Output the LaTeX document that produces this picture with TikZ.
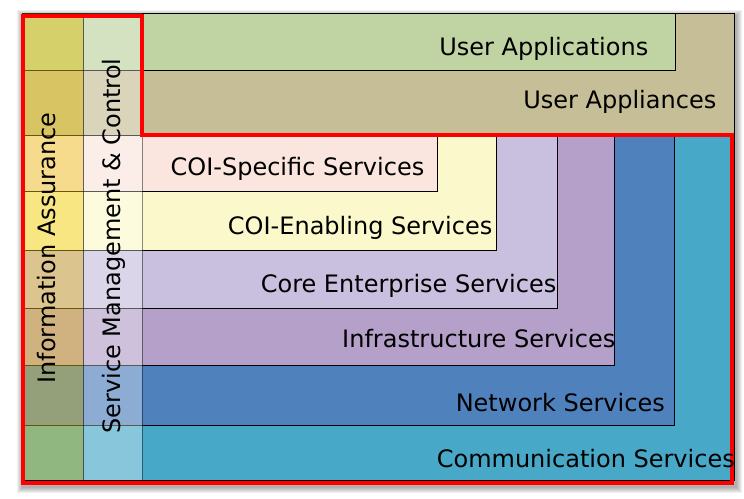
\documentclass[tikz,border=0pt]{standalone}
\usepackage{fontspec}
\setmainfont{DejaVu Sans}
\definecolor{uapps}{HTML}{C0D3A2}
\definecolor{uappl}{HTML}{C6BE96}
\definecolor{coispec}{HTML}{FAE6DE}
\definecolor{coien}{HTML}{FBF9CC}
\definecolor{core}{HTML}{C9BFDE}
\definecolor{infra}{HTML}{B4A0C8}
\definecolor{net}{HTML}{4F81BD}
\definecolor{comm}{HTML}{48A8C8}
\definecolor{iatint}{RGB}{245,205,30}
\begin{document}
\begin{tikzpicture}[x=1pt,y=-1pt,
  layer/.style={draw=black,line width=0.8pt},
  lbl/.style={anchor=base east,inner sep=0pt,font=\fontsize{24}{28}\selectfont},
  vlbl/.style={anchor=base,rotate=90,inner sep=0pt,font=\fontsize{24}{28}\selectfont},
  column/.style={draw=black,draw opacity=0.45,line width=0.8pt},
  frame/.style={draw=red,line width=4pt,line join=miter}]
\useasboundingbox (0,0) rectangle (744,498);

% soft drop shadow
\foreach \i in {1,...,6}
  \fill[black,opacity=0.06] (23-\i,16-\i) rectangle (736+\i,487+\i);

% upper layers
\fill[uappl,layer] (22,13) rectangle (734,135);
\fill[uapps,layer] (22,13) rectangle (675,70);

% nested service layers, outermost first
\fill[comm,layer]    (22,135) rectangle (734,480);
\fill[net,layer]     (22,135) rectangle (674,425);
\fill[infra,layer]   (22,135) rectangle (614,365);
\fill[core,layer]    (22,135) rectangle (557,308);
\fill[coien,layer]   (22,135) rectangle (496,250);
\fill[coispec,layer] (22,135) rectangle (437,191);

% cross-cutting columns
\fill[iatint,fill opacity=0.42,column] (22,13) rectangle (83,480);
\fill[white,fill opacity=0.35,column] (83,13) rectangle (142,480);

% red outline around the service stack
\draw[frame] (22.5,16) -- (142,16) -- (142,135) -- (732,135) -- (732,483) -- (22.5,483) -- cycle;

% layer labels
\node[lbl] (apps)  at (648.5,55.5)  {User Applications};
\node[lbl] (appl)  at (716.5,108.5) {User Appliances};
\node[lbl] (spec)  at (424.5,175)   {COI-Specific Services};
\node[lbl] (enab)  at (492.5,234)   {COI-Enabling Services};
\node[lbl] (cores) at (556.5,292)   {Core Enterprise Services};
\node[lbl] (infr)  at (615.5,347)   {Infrastructure Services};
\node[lbl] (netw)  at (665,411.5)   {Network Services};
\node[lbl] (comms) at (735,467)     {Communication Services};

% column labels
\node[vlbl] (ia)  at (55,248)  {Information Assurance};
\node[vlbl] (smc) at (120,246) {Service Management \& Control};
\end{tikzpicture}
\end{document}
